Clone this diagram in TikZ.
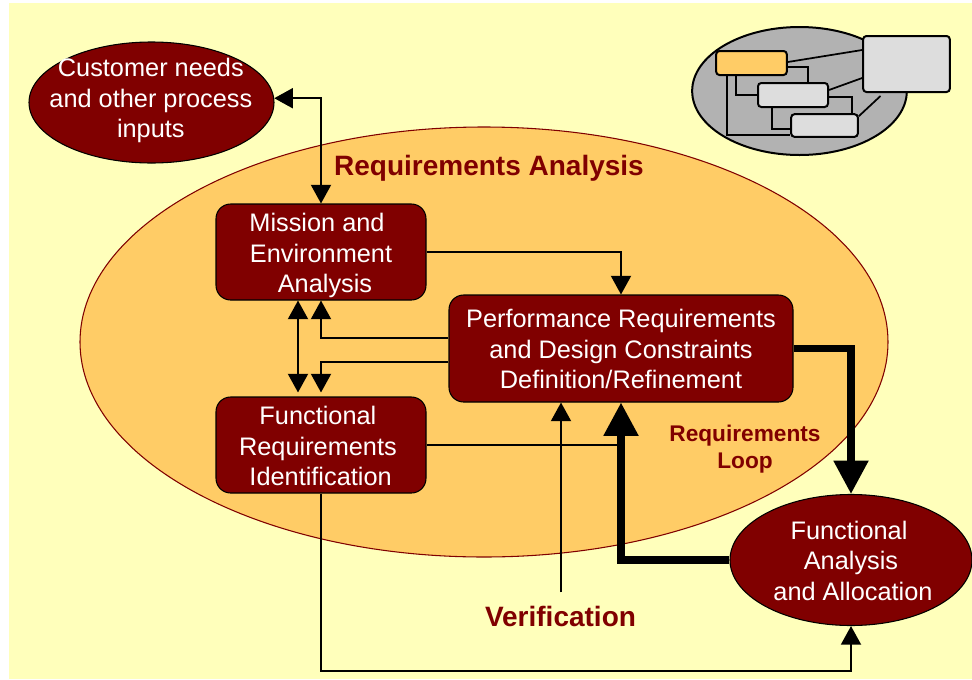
\documentclass[tikz,border=0pt]{standalone}
\usepackage{fontspec}
\setmainfont{Liberation Sans}
\usetikzlibrary{shapes.geometric,arrows.meta,calc}
\definecolor{bgyellow}{HTML}{FFFFBB}
\definecolor{loworange}{HTML}{FFCC66}
\definecolor{maroon}{HTML}{800000}
\definecolor{lightgrey}{HTML}{DDDDDD}
\definecolor{midgrey}{HTML}{B2B2B2}
\newcommand{\bodytext}{\fontsize{19}{22.7}\selectfont}
\tikzset{
  x=0.75pt,y=-0.75pt,
  redbox/.style={draw=black,line width=0.8pt,fill=maroon,rounded corners=11pt,inner sep=0pt},
  redoval/.style={ellipse,draw=black,line width=0.8pt,fill=maroon,inner sep=0pt},
  boxtext/.style={text=white,align=center,inner sep=0pt,font=\bodytext,rounded corners=0pt},
  title/.style={text=maroon,align=center,inner sep=0pt,font=\bfseries\fontsize{21}{25}\selectfont},
  thinflow/.style={draw=black,line width=1.5pt,-{Triangle[length=14pt,width=15pt]}},
  thinboth/.style={draw=black,line width=1.5pt,{Triangle[length=14pt,width=15pt]}-{Triangle[length=14pt,width=15pt]}},
  thinplain/.style={draw=black,line width=1.5pt},
  thickflow/.style={draw=black,line width=5.4pt,-{Triangle[length=25pt,width=25pt]}},
  minibox/.style={draw=black,line width=1.5pt,rounded corners=2.5pt,inner sep=0pt,fill=lightgrey},
  miniline/.style={draw=black,line width=1.3pt},
}
\begin{document}
\begin{tikzpicture}
\useasboundingbox (0,0) rectangle (972,679);
\fill[white] (0,0) rectangle (972,679);
\fill[bgyellow] (9,3) rectangle (972,679);

% requirements analysis region
\node[ellipse,draw=maroon,line width=0.8pt,fill=loworange,inner sep=0pt,minimum width=606pt,minimum height=322.5pt] (region) at (484,342) {};

% main nodes
\node[redoval,minimum width=183.75pt,minimum height=90.75pt,
  label={[boxtext,yshift=1.5pt,xshift=-0.5pt]center:Customer needs\\and other process\\inputs}] (cust) at (151.5,102.5) {};
\node[redbox,minimum width=157.5pt,minimum height=72pt,
  label={[boxtext,yshift=-2.6pt]center:Mission and\hspace*{6pt}\\Environment\\\hspace*{6pt}Analysis}] (mission) at (321,252) {};
\node[redbox,minimum width=157.5pt,minimum height=72pt,
  label={[boxtext,yshift=-0.9pt,xshift=-2.3pt]center:Functional\\Requirements\\\hspace*{4pt}Identification}] (func) at (321,445) {};
\node[redbox,minimum width=258pt,minimum height=80.25pt,
  label={[boxtext,yshift=-0.5pt]center:Performance Requirements\\and Design Constraints\\Definition/Refinement}] (perf) at (621,348.5) {};
\node[redoval,minimum width=181.5pt,minimum height=98.25pt,
  label={[boxtext,yshift=-0.6pt]center:Functional\hspace*{3pt}\\Analysis\hspace*{3pt}\\\hspace*{3pt}and Allocation}] (faa) at (851,560) {};

% labels
\node[title] (ratitle) at (489,168) {Requirements Analysis};
\node[title] (verif) at (560.5,616) {Verification};
\node[title,font=\bfseries\fontsize{17}{20.2}\selectfont] (loop) at (745,449) {Requirements\\Loop};

% connectors
\draw[thinboth] (cust.2.3) -| (mission.north);
\draw[thinflow] (mission.east) -| (perf.north);
\draw[thinflow] ($(perf.west)+(0,-10.5)$) -| (mission.south);
\draw[thinflow] ($(perf.west)+(0,13.5)$) -| ($(func.north)+(0,-4)$);
\draw[thinboth] ($(mission.south)+(-23,0)$) -- ($(func.north)+(-23,-4)$);
\draw[thinplain] (func.east) -- (func.east -| perf.south);
\draw[thickflow] (faa.west) -| (perf.south);
\draw[thickflow] (perf.east) -| (faa.north);
\coordinate (verifytop) at ($(verif.north)+(0.5,-13)$);
\draw[thinflow] (verifytop) -- (verifytop |- perf.south);
\coordinate (lowrun) at ($(func.south)+(0,177)$);
\draw[thinflow] (func.south) |- (lowrun -| faa.south) -- (faa.south);

% inset overview
\node[ellipse,draw=black,line width=1.5pt,fill=midgrey,inner sep=0pt,minimum width=161pt,minimum height=96pt] (miniregion) at (799.5,91) {};
\node[minibox,minimum width=65pt,minimum height=42pt] (minilarge) at (906.5,64) {};
\node[minibox,minimum width=53pt,minimum height=18pt,fill=loworange] (miniorange) at (751.5,63) {};
\node[minibox,minimum width=52.5pt,minimum height=18pt] (minimid) at (793,95) {};
\node[minibox,minimum width=50pt,minimum height=17pt] (minilow) at (824.5,125.5) {};
\draw[miniline] ($(miniorange.east)+(0,-1)$) -- ($(minilarge.west)+(0,-14)$);
\draw[miniline] ($(miniorange.east)+(0,4)$) -| ($(minimid.north)+(15,0)$);
\draw[miniline] ($(miniorange.south)+(-15.5,0)$) |- (minimid.west);
\draw[miniline] ($(miniorange.south)+(-24.5,0)$) |- ($(minilow.west)+(0,9.5)$);
\draw[miniline] ($(minimid.east)+(0,-5)$) -- ($(minilarge.west)+(0,14)$);
\draw[miniline] ($(minimid.east)+(0,2)$) -| ($(minilow.north)+(27.5,0)$);
\draw[miniline] ($(minimid.south)+(-21,0)$) |- ($(minilow.west)+(0,3.5)$);
\draw[miniline] ($(minilow.north east)+(0,3)$) -- ($(minilarge.south)+(-26,3)$);
\end{tikzpicture}
\end{document}
